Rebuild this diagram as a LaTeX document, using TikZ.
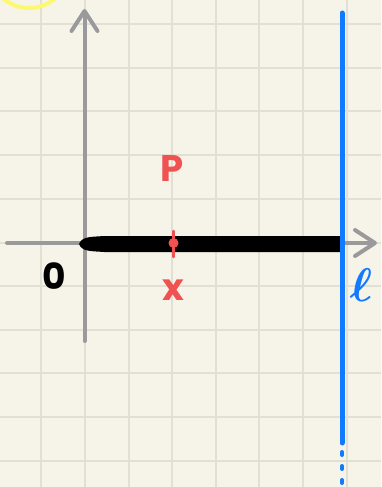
\documentclass[tikz,border=0pt]{standalone}
\usepackage{fontspec}
\newfontfamily\handfont{Poppins}
\usetikzlibrary{arrows.meta}
\definecolor{paper}{RGB}{246,244,232}
\definecolor{gridline}{RGB}{226,224,211}
\definecolor{axisgray}{RGB}{154,154,156}
\definecolor{pointred}{RGB}{240,82,82}
\definecolor{lineblue}{RGB}{18,122,255}
\definecolor{sunyellow}{RGB}{252,248,112}
\tikzset{
  axis/.style={draw=axisgray, line width=4pt, line cap=round,
    -{Straight Barb[length=20pt,width=26pt,round]}},
  segment/.style={fill=black},
  vline/.style={draw=lineblue, line width=5pt, line cap=round},
  redlabel/.style={text=pointred, font=\handfont\bfseries\fontsize{37}{37}\selectfont, inner sep=0pt},
  darklabel/.style={text=black, font=\handfont\bfseries\fontsize{36}{36}\selectfont, inner sep=0pt}
}

\begin{document}
\begin{tikzpicture}[x=1pt, y=-1pt]
  % Paper and grid.
  \fill[paper] (0,0) rectangle (381,487);
  \useasboundingbox (0,0) rectangle (381,487);
  \begin{scope}
    \clip (0,0) rectangle (381,487);
    \foreach \gx in {41,85,129,172,216,259,303,347}
      \draw[gridline, line width=2pt] (\gx,0) -- (\gx,487);
    \foreach \gy in {24,68,111,155,199,243,286,330,373,417,461}
      \draw[gridline, line width=2pt] (0,\gy) -- (381,\gy);
    % Yellow circle at the corner.
    \draw[sunyellow, line width=4pt] (29,-32) circle (40);
  \end{scope}

  % Axes.
  \coordinate (xstart) at (7,243);
  \coordinate (xend) at (377,243);
  \coordinate (ystart) at (84.5,341);
  \coordinate (yend) at (84.5,9);
  \draw[axis] (xstart) -- (xend);
  \draw[axis] (ystart) -- (yend);

  % Ray from the origin.
  \fill[segment] (79,244) .. controls (82,236) and (92,237) .. (104,236)
    -- (341,236) -- (341,252) -- (104,252) .. controls (92,251) and (82,252) .. (79,244) -- cycle;

  % The line l.
  \coordinate (ltop) at (342,13);
  \coordinate (lbot) at (342,443);
  \coordinate (ldots) at (342,486);
  \draw[vline] (ltop) -- (lbot);
  \draw[vline, line width=4pt, dash pattern=on 3pt off 11pt] (lbot) ++(0,9) -- (ldots);

  % Point and labels.
  \coordinate (pt) at (173.5,243);
  \draw[pointred, line width=2.5pt, line cap=round] (173.5,231) -- (173.5,257);
  \fill[pointred] (pt) circle (5);
  \node[redlabel] (plabel) at (172,168.5) {P};
  \node[redlabel] (xlabel) at (173,290) {x};
  \node[darklabel] (olabel) at (54,276.5) {0};
  \node[text=lineblue, inner sep=0pt, font=\Huge\boldmath, scale=1.9] (llabel) at (361,285) {$\ell$};
\end{tikzpicture}
\end{document}
